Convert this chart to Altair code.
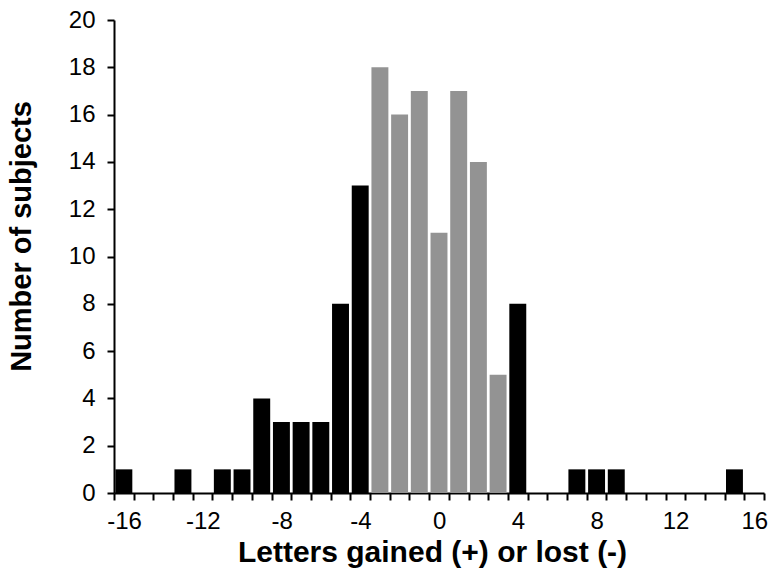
import altair as alt
import pandas as pd

# Letters gained (+) or lost (-), one bin per integer value
letters = list(range(-16, 17))
subjects = [1, 0, 0, 1, 0, 1, 1, 4, 3, 3, 3, 8, 13,
            18, 16, 17, 11, 17, 14, 5,
            8, 0, 0, 1, 1, 1, 0, 0, 0, 0, 0, 1, 0]

df = pd.DataFrame({"letters": letters, "subjects": subjects})

tick_values = [v - 0.5 for v in letters] + [letters[-1] + 0.5]
label_expr = "(datum.value + 0.5) % 4 == 0 ? '' + (datum.value + 0.5) : ''"

FONT = "Liberation Sans"

chart = (
    alt.Chart(df)
    .transform_calculate(lo="datum.letters - 0.43", hi="datum.letters + 0.43")
    .mark_bar()
    .encode(
        x=alt.X(
            "lo:Q",
            scale=alt.Scale(domain=[-16.5, 16.5], nice=False, zero=False),
            axis=alt.Axis(
                title="Letters gained (+) or lost (-)",
                values=tick_values,
                labelExpr=label_expr,
                labelOffset=10,
                labelOverlap=False,
                labelFlush=False,
                labelFont=FONT,
                labelFontSize=24,
                labelColor="black",
                labelPadding=9,
                tickSize=7,
                tickWidth=2,
                tickColor="black",
                domainColor="black",
                domainWidth=2,
                grid=False,
                titleFont=FONT,
                titleFontSize=30,
                titleFontWeight="bold",
                titleColor="black",
                titleX=318,
                titleY=44,
                titleBaseline="top",
            ),
        ),
        x2="hi:Q",
        y=alt.Y(
            "subjects:Q",
            scale=alt.Scale(domain=[0, 20], nice=False),
            axis=alt.Axis(
                title="Number of subjects",
                values=list(range(0, 21, 2)),
                labelFont=FONT,
                labelFontSize=24,
                labelColor="black",
                labelPadding=12,
                tickSize=7,
                tickWidth=2,
                tickColor="black",
                domainColor="black",
                domainWidth=2,
                grid=False,
                titleFont=FONT,
                titleFontSize=29,
                titleFontWeight="bold",
                titleColor="black",
                titleX=-78,
                titleY=216,
            ),
        ),
        y2=alt.datum(0),
        color=alt.condition(
            "abs(datum.letters) <= 3", alt.value("#939393"), alt.value("#000000")
        ),
    )
    .properties(
        width=650,
        height=473,
        autosize=alt.AutoSizeParams(type="none"),
        padding={"left": 114, "top": 20, "right": 7, "bottom": 88},
    )
    .configure_view(stroke=None)
)

chart.save("out.html", embed_options={"renderer": "svg", "actions": False})
